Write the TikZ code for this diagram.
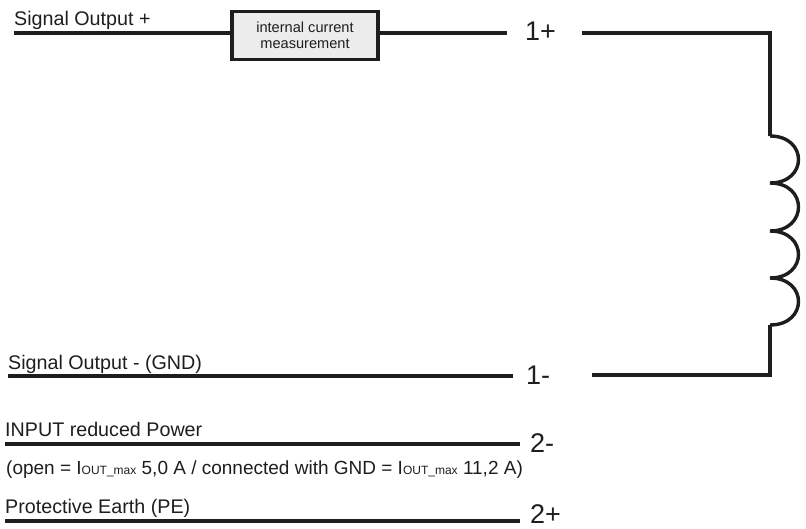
\documentclass[tikz,border=0pt]{standalone}
\usepackage{fontspec}
\setmainfont{Liberation Sans}
\definecolor{boxgrey}{RGB}{235,236,235}
\definecolor{wire}{RGB}{30,30,30}
\newcommand{\Iout}{I{\fontsize{12}{12}\selectfont OUT\_max}}
\tikzset{
  wireline/.style={draw=wire,line width=3.4pt},
  caption/.style={anchor=base west,inner sep=0pt,text=wire,font=\fontsize{19.7}{22}\selectfont},
  pin/.style={anchor=base west,inner sep=0pt,text=wire,font=\fontsize{27}{28}\selectfont}
}
\begin{document}
\begin{tikzpicture}[x=1pt,y=-1pt]
  \useasboundingbox (0,0) rectangle (806,529);

  \node [caption] (sigplus) at (14,26) {Signal Output +};
  \node [caption] (sigminus) at (8,370) {Signal Output - (GND)};
  \node [caption] (reduced) at (5,436) {INPUT reduced Power};
  \node [caption,font=\fontsize{19}{22}\selectfont] (hint) at (6,474) {(open = \Iout{} 5,0 A / connected with GND = \Iout{} 11,2 A)};
  \node [caption] (earth) at (5,513) {Protective Earth (PE)};

  \node [pin] (pinone) at (525,41) {1+};
  \node [pin] (pintwo) at (526,384) {1-};
  \node [pin] (pinthree) at (530,452) {2-};
  \node [pin] (pinfour) at (530,523) {2+};

  \node [draw=wire,line width=3.4pt,fill=boxgrey,minimum width=146pt,minimum height=48pt,align=center,
         inner sep=0pt,text=wire,font=\fontsize{14.6}{16}\selectfont] (meas) at (305,35.5)
        {internal current\\measurement};

  \coordinate (sigplusstart) at (14,33);
  \coordinate (pinoneend) at (507,33);
  \coordinate (pinoneback) at (582,33);
  \coordinate (topcorner) at (770,33);
  \coordinate (coiltop) at (770,136);
  \coordinate (coilbottom) at (770,325);
  \coordinate (bottomcorner) at (770,375);
  \coordinate (pintwoback) at (592,375);

  \draw [wireline] (sigplusstart) -- (sigplusstart -| meas.west);
  \draw [wireline] (pinoneend -| meas.east) -- (pinoneend);
  \draw [wireline,line join=miter] (pinoneback) -- (topcorner) -- (coiltop);
  \draw [wireline,line join=miter] (coilbottom) -- (bottomcorner) -- (pintwoback);

  \foreach \top/\bottom in {136/183,183/231,231/278,278/325} {
    \draw [wireline] (770,\top) .. controls (808,\top) and (808,\bottom) .. (770,\bottom);
  }

  \coordinate (sigminusstart) at (8,376);
  \coordinate (sigminusend) at (513,376);
  \coordinate (reducedstart) at (5,444);
  \coordinate (reducedend) at (520,444);
  \coordinate (earthstart) at (5,521);
  \coordinate (earthend) at (520,521);
  \draw [wireline] (sigminusstart) -- (sigminusend);
  \draw [wireline] (reducedstart) -- (reducedend);
  \draw [wireline] (earthstart) -- (earthend);
\end{tikzpicture}
\end{document}
